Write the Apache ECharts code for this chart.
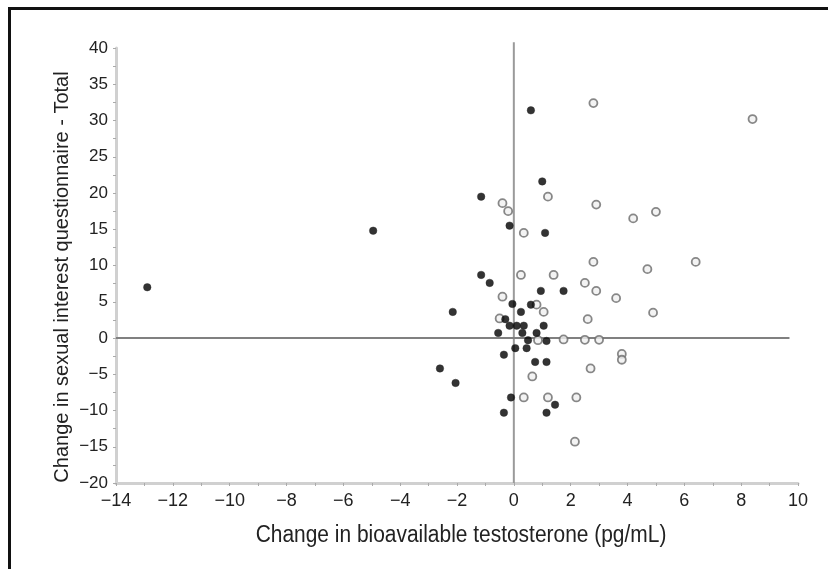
<!DOCTYPE html>
<html><head><meta charset="utf-8">
<script src="https://cdn.jsdelivr.net/npm/echarts@6/dist/echarts.min.js"></script>
<style>html,body{margin:0;padding:0;background:#fff}#c{width:828px;height:569px}</style>
</head><body><div id="c"></div>
<script>
const xTitle = "Change in bioavailable testosterone (pg/mL)";
const yTitle = "Change in sexual interest questionnaire - Total";
const xRange = [-14, 10];
const yRange = [-20, 40];
const filledPoints = [
  [-12.9, 7], [-4.95, 14.8], [0.6, 31.4], [1.0, 21.6], [-1.15, 19.5], [-0.15, 15.5],
  [1.1, 14.5], [-1.15, 8.7], [-0.85, 7.6], [0.95, 6.5], [1.75, 6.5], [-2.15, 3.6],
  [-0.05, 4.7], [0.6, 4.6], [0.25, 3.6], [-0.3, 2.6], [-0.15, 1.7], [0.1, 1.7],
  [0.35, 1.7], [1.05, 1.7], [-0.55, 0.7], [0.3, 0.7], [0.8, 0.7], [0.5, -0.3],
  [1.15, -0.4], [0.05, -1.4], [0.45, -1.4], [-0.35, -2.3], [0.75, -3.3], [1.15, -3.3],
  [-2.6, -4.2], [-2.05, -6.2], [-0.1, -8.2], [1.45, -9.2], [-0.35, -10.3], [1.15, -10.3]
];
const openPoints = [
  [2.8, 32.4], [8.4, 30.2], [1.2, 19.5], [-0.4, 18.6], [-0.2, 17.5], [2.9, 18.4],
  [5.0, 17.4], [4.2, 16.5], [0.35, 14.5], [2.8, 10.5], [6.4, 10.5], [4.7, 9.5],
  [0.25, 8.7], [1.4, 8.7], [2.5, 7.6], [2.9, 6.5], [3.6, 5.5], [-0.4, 5.7],
  [0.8, 4.6], [1.05, 3.6], [4.9, 3.5], [2.6, 2.6], [-0.5, 2.7], [0.85, -0.3],
  [1.75, -0.2], [2.5, -0.25], [3.0, -0.25], [3.8, -2.2], [3.8, -3.0], [2.7, -4.2],
  [0.65, -5.3], [0.35, -8.2], [1.2, -8.2], [2.2, -8.2], [2.15, -14.3]
];
const verticalZeroLine = [[0, -20], [0, 40.8]];
const horizontalZeroLine = [[-14, 0], [9.7, 0]];

const fmt = v => String(v).replace('-', '\u2212');
const chart = echarts.init(document.getElementById('c'), null, {renderer: 'canvas'});
const axisCommon = {
  axisLine: {show: true, onZero: false, lineStyle: {color: '#d0d0d0', width: 3}},
  axisTick: {show: true, length: 3, lineStyle: {color: '#aaa'}},
  minorTick: {show: true, splitNumber: 2, length: 3, lineStyle: {color: '#aaa'}},
  splitLine: {show: false}
};
chart.setOption({
  animation: false,
  backgroundColor: '#fff',
  grid: {left: 116, right: 30, top: 48, bottom: 86},
  xAxis: Object.assign({
    type: 'value', min: xRange[0], max: xRange[1], interval: 2,
    axisLabel: {formatter: fmt, fontFamily: 'Liberation Sans', fontSize: 18, color: '#222', margin: 9}
  }, axisCommon),
  yAxis: Object.assign({
    type: 'value', min: yRange[0], max: yRange[1], interval: 5,
    axisLabel: {formatter: fmt, fontFamily: 'Liberation Sans', fontSize: 17, color: '#222', margin: 8}
  }, axisCommon),
  series: [
    {
      type: 'line', data: verticalZeroLine, showSymbol: false, symbol: 'none', clip: false, z: 1,
      lineStyle: {color: '#9a9a9a', width: 2}, silent: true
    },
    {
      type: 'line', data: horizontalZeroLine, showSymbol: false, symbol: 'none', clip: false, z: 1,
      lineStyle: {color: '#808080', width: 2}, silent: true
    },
    {
      type: 'scatter', name: 'open', data: openPoints, symbolSize: 8, clip: false, z: 3,
      itemStyle: {color: '#f0f0f0', borderColor: '#6a6a6a', borderWidth: 1.8}
    },
    {
      type: 'scatter', name: 'filled', data: filledPoints, symbolSize: 7.5, clip: false, z: 4,
      itemStyle: {color: '#000', borderColor: '#222', borderWidth: 0.5}
    }
  ],
  graphic: [
    {type: 'line', shape: {x1: 9, y1: 8.5, x2: 828, y2: 8.5}, style: {stroke: '#111', lineWidth: 3}, silent: true},
    {type: 'line', shape: {x1: 9.5, y1: 7, x2: 9.5, y2: 569}, style: {stroke: '#111', lineWidth: 3}, silent: true},
    {type: 'text', x: 461, y: 536, scaleX: 0.91, silent: true,
     style: {text: xTitle, fontFamily: 'Liberation Sans', fontSize: 23, fill: '#222', align: 'center', verticalAlign: 'middle'}},
    {type: 'text', x: 62, y: 277, rotation: Math.PI / 2, silent: true,
     style: {text: yTitle, fontFamily: 'Liberation Sans', fontSize: 20, fill: '#222', align: 'center', verticalAlign: 'middle'}}
  ]
});
</script></body></html>
